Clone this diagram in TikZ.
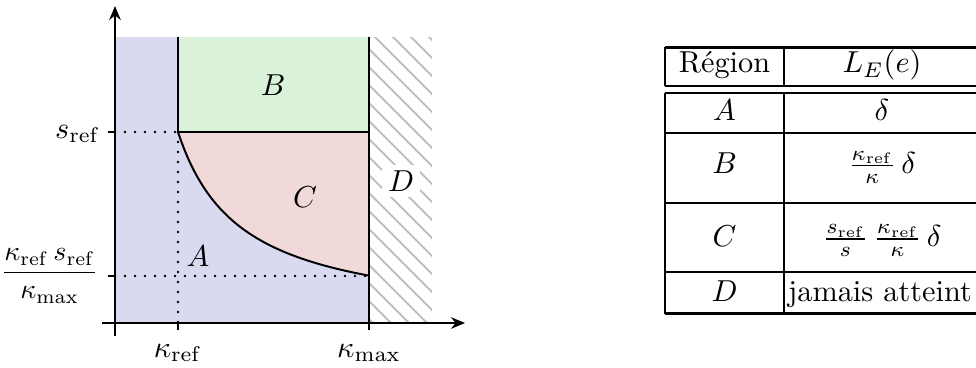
\documentclass[tikz,border=0pt]{standalone}
\usepackage{amsmath}
\usetikzlibrary{arrows.meta}
\definecolor{regA}{RGB}{217,217,240}
\definecolor{regB}{RGB}{217,242,217}
\definecolor{regC}{RGB}{242,217,217}
\begin{document}
\begin{tikzpicture}[x=0.33pt,y=-0.33pt,
  bnd/.style={line width=0.65pt},
  dotline/.style={line width=0.85pt, line cap=round, dash pattern=on 0pt off 3.3pt},
  axisarrow/.style={line width=0.65pt,-{Stealth[length=4.6pt,width=3.8pt]}},
  tickmark/.style={line width=0.65pt},
  hatchline/.style={gray!50,line width=0.6pt},
  tabrule/.style={line width=0.75pt},
  lbl/.style={inner sep=0pt}]
\useasboundingbox (0,0) rectangle (976,367);
% region fills
\fill[regA] (115,37) rectangle (369,323);
\fill[regB] (178,37) rectangle (369,132);
\fill[regC] (178,132) -- (369,132) -- (369,275.6)
  -- plot[domain=369:178,samples=60] (\x,{323-12033/(\x-115)}) -- cycle;
% hatched region D
\begin{scope}
  \clip (369,37) rectangle (432,323);
  \foreach \c in {14,32,...,430} \draw[hatchline] (\c,0) -- (\c+400,400);
\end{scope}
% dotted guides
\draw[dotline] (115,132) -- (178,132);
\draw[dotline] (178,132) -- (178,323);
\draw[dotline] (115,276) -- (369,276);
% boundaries
\draw[bnd] (178,37) -- (178,132) -- (369,132);
\draw[bnd] (369,37) -- (369,323);
\draw[bnd] plot[domain=178:369,samples=60] (\x,{323-12033/(\x-115)});
% axes
\coordinate (xs) at (102,323); \coordinate (xe) at (465,323);
\coordinate (ys) at (115,336); \coordinate (ye) at (115,6);
\draw[axisarrow] (xs) -- (xe);
\draw[axisarrow] (ys) -- (ye);
% ticks
\draw[tickmark] (178,323) -- (178,330);
\draw[tickmark] (369,323) -- (369,330);
\draw[tickmark] (108,132) -- (115,132);
\draw[tickmark] (108,276) -- (115,276);
% axis labels
\node[lbl, anchor=base east] (ls) at (101,138) {$s_{\mathrm{ref}}$};
\node[lbl, anchor=east] (lf) at (99,276) {\scalebox{0.92}{$\dfrac{\kappa_{\mathrm{ref}}\,s_{\mathrm{ref}}}{\kappa_{\max}}$}};
\node[lbl, anchor=base] (lkr) at (178,357) {$\kappa_{\mathrm{ref}}$};
\node[lbl, anchor=base] (lkm) at (369,357) {$\kappa_{\max}$};
% region labels
\node (rA) at (198,256) {$A$};
\node (rB) at (273,85.5) {$B$};
\node (rC) at (305,197) {$C$};
\node[fill=white, inner sep=2pt] (rD) at (401,181) {$D$};
% table
\draw[tabrule] (665,47.5) -- (976,47.5);
\draw[tabrule] (665,85.7) -- (976,85.7);
\draw[tabrule] (665,93) -- (976,93);
\draw[tabrule] (665,133) -- (976,133);
\draw[tabrule] (665,203) -- (976,203);
\draw[tabrule] (665,272) -- (976,272);
\draw[tabrule] (665,313.5) -- (976,313.5);
\draw[tabrule] (665,47.1) -- (665,86.1);
\draw[tabrule] (784,47.1) -- (784,86.1);
\draw[tabrule] (665,92.6) -- (665,313.9);
\draw[tabrule] (784,92.6) -- (784,313.9);
\node[lbl, anchor=base] (h1) at (724.5,72.5) {Région};
\node[lbl, anchor=base] (h2) at (882,72.5) {$L_E(e)$};
\node[lbl, anchor=base] (a1) at (724.5,120) {$A$};
\node[lbl, anchor=base] (a2) at (882,120) {$\delta$};
\node[lbl, anchor=base] (b1) at (724.5,173) {$B$};
\node[lbl, anchor=base] (b2) at (882,173) {$\frac{\kappa_{\mathrm{ref}}}{\kappa}\,\delta$};
\node[lbl, anchor=base] (c1) at (724.5,246.5) {$C$};
\node[lbl, anchor=base] (c2) at (882,246.5) {$\frac{s_{\mathrm{ref}}}{s}\,\frac{\kappa_{\mathrm{ref}}}{\kappa}\,\delta$};
\node[lbl, anchor=base] (d1) at (724.5,301.5) {$D$};
\node[lbl, anchor=base] (d2) at (880,301.5) {jamais atteint};
\end{tikzpicture}
\end{document}
